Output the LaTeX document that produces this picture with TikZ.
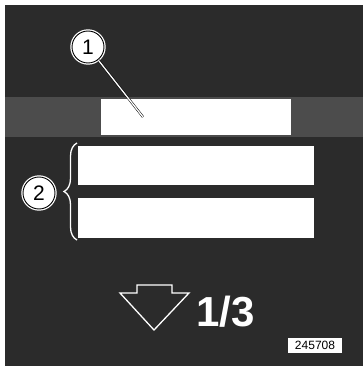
\documentclass[tikz,border=0pt]{standalone}
\usepackage{fontspec}
\setmainfont{Liberation Sans}
\usetikzlibrary{positioning, decorations.pathreplacing}
\definecolor{panelbg}{HTML}{2B2B2B}
\definecolor{bandgrey}{HTML}{4C4C4C}
\begin{document}
\begin{tikzpicture}[
        x=1pt, y=-1pt,
        field/.style={fill=white, draw=none},
        callout/.style={circle, fill=white, draw=black, line width=0.9pt, minimum size=32pt, inner sep=0pt,
            font=\fontsize{21}{21}\selectfont, preaction={draw=white, line width=3.4pt}},
        leader/.style={draw=black, line width=0.5pt, double=white, double distance=1.3pt},
        every node/.style={text=black}
    ]
        % frame and screen
        \fill[white] (0,0) rectangle (363,366);
        \fill[panelbg] (5,5) rectangle (363,366);
        \fill[bandgrey] (5,97) rectangle (363,137);

        % text fields
        \node[field, minimum width=190pt, minimum height=36pt, inner sep=0pt] (f1) at (196,117) {};
        \node[field, minimum width=236pt, minimum height=39pt, inner sep=0pt] (f2) at (196,165.5) {};
        \node[field, minimum width=236pt, minimum height=40pt, inner sep=0pt] (f3) at (196,218) {};

        % callouts
        \node[callout] (c1) at (88,47) {1};
        \coordinate (p1) at (143,117);
        \draw[leader] (c1) -- (p1);

        \draw[white, line width=1.3pt, decorate, decoration={brace, amplitude=13pt}]
            (77,240) -- (77,143);
        \node[callout] (c2) at (39,193) {2};

        % page indicator
        \draw[white, line width=1.3pt, line join=miter]
            (137,285) -- (172,285) -- (172,293) -- (189,293) -- (154,330) -- (120,293) -- (137,293) -- cycle;
        \node[text=white, font=\fontsize{42}{42}\selectfont\bfseries, anchor=west, inner sep=0pt] (pg) at (196,312) {1/3};

        % reference number
        \node[fill=white, font=\fontsize{12}{12}\selectfont, minimum width=54pt, minimum height=15pt, inner sep=0pt] (ref) at (315,345.5) {245708};
    \end{tikzpicture}
\end{document}
